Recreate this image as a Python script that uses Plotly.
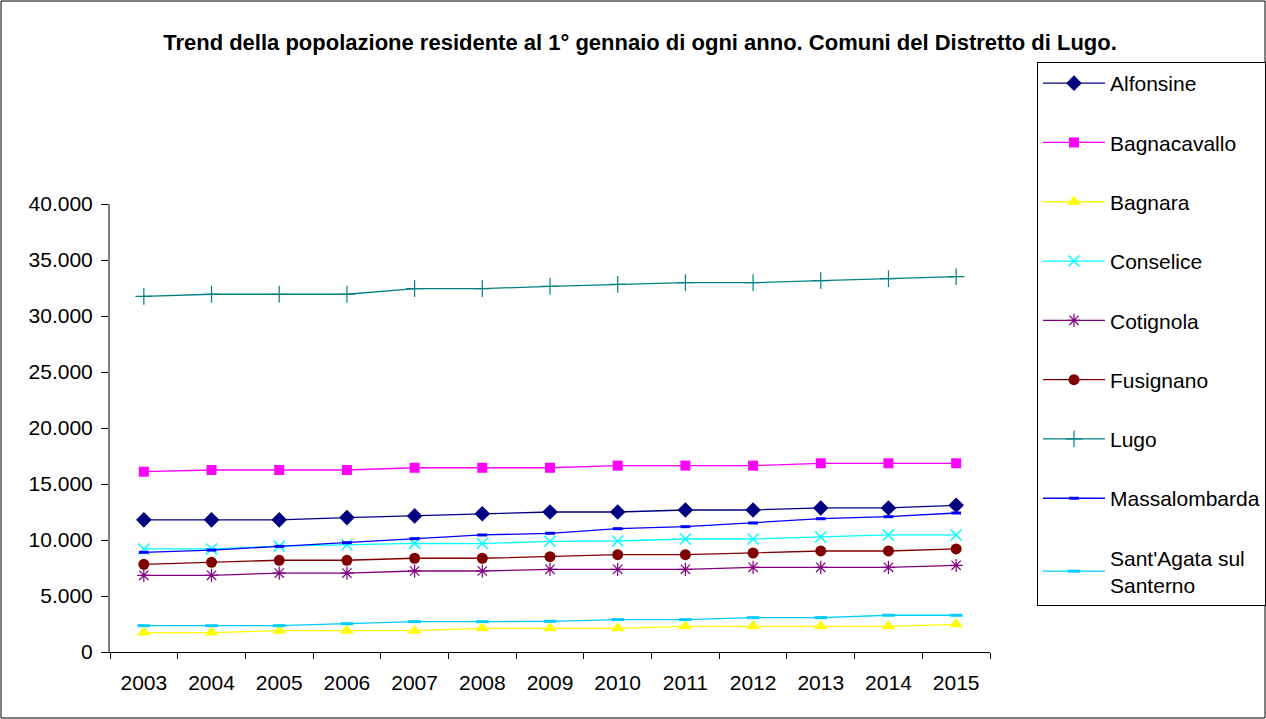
import plotly.graph_objects as go

years = [str(y) for y in range(2003, 2016)]

alfonsine = [11800, 11800, 11800, 12000, 12150, 12350, 12500, 12500, 12680, 12680, 12860, 12860, 13100]
bagnacavallo = [16100, 16250, 16250, 16250, 16450, 16450, 16450, 16640, 16640, 16640, 16850, 16850, 16850]
bagnara = [1730, 1730, 1900, 1900, 1900, 2110, 2110, 2110, 2290, 2290, 2290, 2290, 2470]
conselice = [9200, 9200, 9450, 9580, 9700, 9680, 9880, 9910, 10090, 10090, 10270, 10450, 10450]
cotignola = [6850, 6850, 7050, 7050, 7230, 7230, 7380, 7380, 7380, 7560, 7560, 7560, 7740]
fusignano = [7830, 8010, 8190, 8190, 8370, 8370, 8510, 8690, 8690, 8840, 9020, 9020, 9200]
lugo = [31760, 31940, 31940, 31940, 32440, 32440, 32650, 32830, 32980, 32980, 33160, 33330, 33510]
massalombarda = [8900, 9100, 9430, 9760, 10120, 10450, 10600, 11010, 11190, 11520, 11900, 12080, 12410]
santagata = [2350, 2350, 2350, 2530, 2710, 2710, 2740, 2890, 2890, 3070, 3070, 3280, 3280]

series = [
    ("Alfonsine", alfonsine, "#000080", "diamond", 12, None),
    ("Bagnacavallo", bagnacavallo, "#FF00FF", "square", 10, None),
    ("Bagnara", bagnara, "#FFFF00", "triangle-up", 12, None),
    ("Conselice", conselice, "#00FFFF", "x-thin", 11, 1.5),
    ("Cotignola", cotignola, "#800080", "asterisk", 11, 1.2),
    ("Fusignano", fusignano, "#800000", "circle", 11, None),
    ("Lugo", lugo, "#008080", "cross-thin", 12, 1.2),
    ("Massalombarda", massalombarda, "#0000FF", "line-ew", 7, 3),
    ("Sant'Agata sul<br>Santerno", santagata, "#00CCFF", "line-ew", 9, 3),
]

fig = go.Figure()
for i, (name, vals, color, sym, size, lw) in enumerate(series):
    marker = dict(symbol=sym, size=size, color=color)
    if lw is not None:
        marker["line"] = dict(color=color, width=lw)
    else:
        marker["line"] = dict(width=0)
    fig.add_trace(go.Scatter(
        x=years, y=vals, name=name, mode="lines+markers",
        line=dict(color=color, width=1.3), marker=marker,
        legendgroup=f"g{i}",
    ))

L, R, T, B = 110, 990, 204, 652
W, H = 1266, 719
pw, ph = R - L, B - T

fig.update_layout(
    width=W, height=H,
    margin=dict(l=L, r=W - R, t=T, b=H - B, pad=0, autoexpand=False),
    paper_bgcolor="white", plot_bgcolor="white",
    separators=",.",
    font=dict(family="Liberation Sans, Arial, sans-serif", size=21, color="black"),
    title=dict(
        text="<b>Trend della popolazione residente al 1° gennaio di ogni anno. Comuni del Distretto di Lugo.</b>",
        x=640 / W, xanchor="center", y=1 - 42 / H, yanchor="middle",
        font=dict(size=22, color="black"),
    ),
    showlegend=True,
    legend=dict(
        x=(1037 - L) / pw, xanchor="left",
        y=(B - 62) / ph, yanchor="top",
        bordercolor="black", borderwidth=1,
        bgcolor="white",
        font=dict(size=21, color="black"),
        tracegroupgap=29,
        itemwidth=62,
        maxheight=1,
    ),
    xaxis=dict(
        type="category", range=[-0.5, 12.5],
        showgrid=False, zeroline=False,
        showline=True, linecolor="black", linewidth=1,
        ticks="outside", ticklen=6, tickcolor="black",
        tickson="boundaries", ticklabelstandoff=12,
        tickfont=dict(size=21, color="black"),
    ),
    yaxis=dict(
        range=[0, 40000], tickvals=[0, 5000, 10000, 15000, 20000, 25000, 30000, 35000, 40000],
        tickformat=",d",
        showgrid=False, zeroline=False,
        showline=True, linecolor="#808080", linewidth=2,
        ticks="outside", ticklen=7, tickcolor="#000000",
        ticklabelstandoff=4,
        tickfont=dict(size=21, color="black"),
    ),
    shapes=[dict(
        type="rect", xref="paper", yref="paper",
        x0=(1 - L) / pw, x1=(W - 1 - L) / pw,
        y0=(B - (H - 1)) / ph, y1=(B - 1) / ph,
        line=dict(color="black", width=1), fillcolor="rgba(0,0,0,0)", layer="below",
    )],
)

fig.write_html("out.html", config={"displayModeBar": False},
               post_script="document.body.style.margin='0';")
